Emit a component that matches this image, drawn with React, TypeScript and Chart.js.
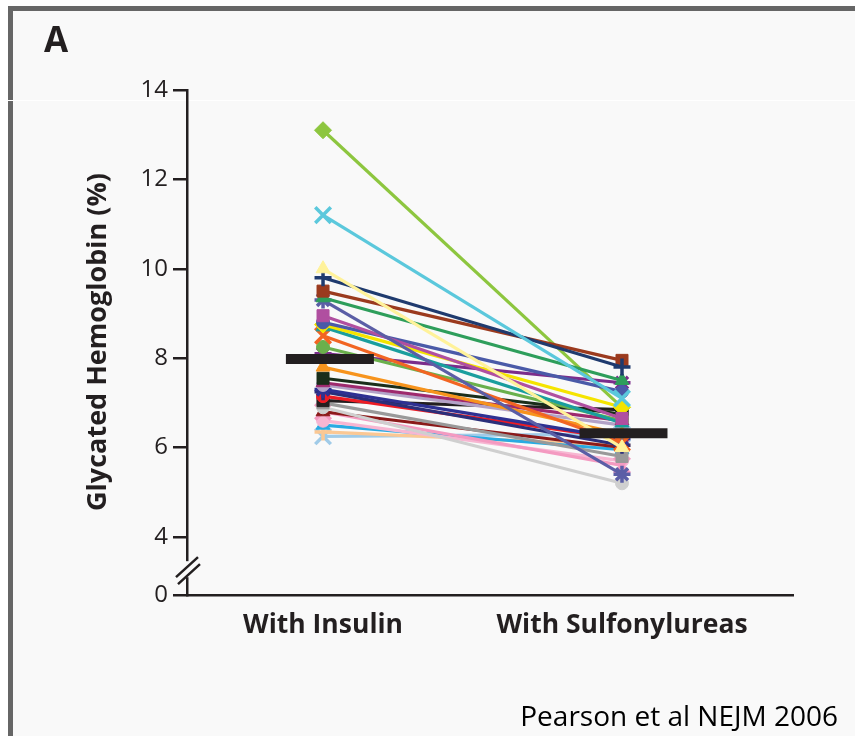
import React, { useEffect, useRef } from "react";
import { Chart, registerables } from "chart.js";

Chart.register(...registerables);

const categories = ["With Insulin", "With Sulfonylureas"];
const yTickValues = [2.7, 4, 6, 8, 10, 12, 14];
const yTickLabels = ["0", "4", "6", "8", "10", "12", "14"];

const insulinValues = [13.1, 11.2, 10.0, 9.8, 9.5, 9.35, 9.3, 8.95, 8.8, 8.75, 8.7, 8.5, 8.25, 8.1, 7.8, 7.55, 7.45, 7.4, 7.3, 7.25, 7.15, 7.05, 7.0, 6.9, 6.8, 6.8, 6.6, 6.5, 6.35, 6.25];
const sulfonylureaValues = [6.9, 7.1, 6.0, 7.8, 7.95, 7.5, 5.4, 6.65, 7.25, 6.9, 6.55, 6.1, 6.6, 7.45, 6.3, 6.75, 6.6, 6.5, 6.2, 6.05, 6.2, 6.85, 5.8, 5.2, 6.0, 5.6, 5.7, 5.95, 6.05, 6.3];
const seriesColors = ["#8dc63f", "#5bc8dc", "#fff29a", "#1f3a6e", "#9b3a1e", "#2e9e5b", "#5b5ea6", "#b04fa0", "#4a5aa8", "#f5e400", "#1a9e9e", "#f26522", "#6ab04c", "#7b2d8b", "#f7941d", "#1a2e1a", "#9e2a6e", "#b3a2c7", "#2e3192", "#2b2f7a", "#ed1c24", "#231f20", "#999999", "#cfcfcf", "#8b1a1a", "#f49ac1", "#f7b6d2", "#29abe2", "#fbc894", "#a0cbe8"];
const seriesMarkers = ["rectRot", "crossRot", "triangle", "cross", "rect", "triangle", "star", "rect", "circle", "rectRot", "triangle", "crossRot", "circle", "star", "triangle", "rect", "triangle", "circle", "star", "cross", "circle", "rect", "rect", "circle", "triangle", "crossRot", "circle", "triangle", "cross", "crossRot"];
const meanValues = [7.98, 6.32];
const meanXOffsets = [0.023, 1.005];

const markerRadius: Record<string, number> = {
  circle: 6.5,
  rect: 8.5,
  rectRot: 8.5,
  crossRot: 11,
  cross: 8.5,
  star: 8.5,
  triangle: 8,
};

export default function App() {
  const canvasRef = useRef<HTMLCanvasElement>(null);

  useEffect(() => {
    const canvas = canvasRef.current;
    if (!canvas) return;

    const lineSets = insulinValues.map((v, i) => {
      const marker = seriesMarkers[i];
      const isStroke = marker === "cross" || marker === "crossRot" || marker === "star";
      return {
        label: "p" + i,
        data: [
          { x: 0, y: v },
          { x: 1, y: sulfonylureaValues[i] },
        ],
        order: i === 0 ? 2 : 1,
        borderColor: seriesColors[i],
        backgroundColor: seriesColors[i],
        borderWidth: 3.2,
        pointStyle: marker,
        pointRadius: markerRadius[marker],
        pointBackgroundColor: seriesColors[i],
        pointBorderColor: seriesColors[i],
        pointBorderWidth: isStroke ? 3.5 : 1,
        showLine: true,
        clip: false as any,
      };
    });

    const meanSet = {
      label: "mean",
      order: 0,
      data: meanValues.map((v, i) => ({ x: meanXOffsets[i], y: v })),
      showLine: false,
      pointStyle: "line",
      pointRadius: 44,
      pointBorderWidth: 10,
      pointBorderColor: "#231f20",
      pointBackgroundColor: "#231f20",
      borderColor: "#231f20",
      clip: false as any,
    };

    const decorations = {
      id: "decorations",
      afterDraw(chart: any) {
        const ctx = chart.ctx;
        const ys = chart.scales.y;
        const x0 = chart.chartArea.left;
        ctx.save();
        // axis break
        const yBreak = ys.getPixelForValue(3.3);
        ctx.fillStyle = "#f9f9f9";
        ctx.fillRect(x0 - 4, yBreak - 7, 8, 16);
        ctx.strokeStyle = "#231f20";
        ctx.lineWidth = 2.5;
        ctx.beginPath();
        ctx.moveTo(x0 - 11, yBreak + 9);
        ctx.lineTo(x0 + 11, yBreak - 11);
        ctx.moveTo(x0 - 9, yBreak + 16);
        ctx.lineTo(x0 + 13, yBreak - 4);
        ctx.stroke();

        // y axis title
        ctx.fillStyle = "#231f20";
        ctx.font = "bold 27px 'Open Sans'";
        ctx.textAlign = "center";
        ctx.textBaseline = "alphabetic";
        ctx.translate(106, 342);
        ctx.rotate(-Math.PI / 2);
        ctx.fillText("Glycated Hemoglobin (%)", 0, 0);
        ctx.restore();

        ctx.save();
        ctx.fillStyle = "#231f20";
        ctx.font = "bold 35px 'Open Sans'";
        ctx.textAlign = "left";
        ctx.textBaseline = "alphabetic";
        ctx.fillText("A", 44, 52);

        ctx.fillStyle = "#000000";
        ctx.font = "28px 'Open Sans'";
        ctx.textAlign = "right";
        ctx.fillText("Pearson et al NEJM 2006", 838, 726);
        ctx.restore();
      },
    };

    const chart = new Chart(canvas, {
      type: "line",
      data: { datasets: [meanSet as any, ...lineSets] },
      options: {
        animation: false,
        responsive: false,
        maintainAspectRatio: false,
        layout: { padding: { left: 0, top: 90, right: 62, bottom: 0 } },
        plugins: { legend: { display: false }, tooltip: { enabled: false } },
        scales: {
          x: {
            type: "linear",
            min: -0.455,
            max: 1.572,
            afterBuildTicks: (scale: any) => {
              scale.ticks = [{ value: 0 }, { value: 1 }];
            },
            afterFit: (scale: any) => {
              scale.height = 141;
            },
            grid: { display: false, drawTicks: false },
            border: { display: true, color: "#231f20", width: 2.5 },
            ticks: {
              autoSkip: false,
              maxRotation: 0,
              padding: 15,
              color: "#231f20",
              font: { family: "'Open Sans'", size: 26.5, weight: "bold" },
              callback: (v: any) => (v === 0 ? categories[0] : v === 1 ? categories[1] : ""),
            },
          },
          y: {
            type: "linear",
            min: 2.7,
            max: 14,
            afterBuildTicks: (scale: any) => {
              scale.ticks = yTickValues.map((v) => ({ value: v }));
            },
            afterFit: (scale: any) => {
              scale.width = 187;
            },
            grid: { display: true, drawOnChartArea: false, drawTicks: true, tickLength: 14, color: "#231f20", lineWidth: 2.5 },
            border: { display: true, color: "#231f20", width: 2.5 },
            ticks: {
              autoSkip: false,
              padding: 5,
              color: "#231f20",
              font: { family: "'Open Sans'", size: 24 },
              callback: (v: any) => {
                const idx = yTickValues.indexOf(v);
                return idx >= 0 ? yTickLabels[idx] : "";
              },
            },
          },
        },
      },
      plugins: [decorations],
    });

    return () => chart.destroy();
  }, []);

  return (
    <div style={{ position: "absolute", left: 0, top: 0, width: 855, height: 736, background: "#ffffff", overflow: "hidden" }}>
      <div
        style={{
          position: "absolute",
          left: 8,
          top: 6,
          width: 870,
          height: 760,
          background: "#f9f9f9",
          borderTop: "5px solid #666666",
          borderLeft: "5px solid #666666",
        }}
      />
      <div style={{ position: "absolute", left: 0, top: 100, width: 855, height: 1, background: "#ffffff" }} />
      <canvas ref={canvasRef} width={855} height={736} style={{ position: "absolute", left: 0, top: 0, width: 855, height: 736 }} />
    </div>
  );
}
